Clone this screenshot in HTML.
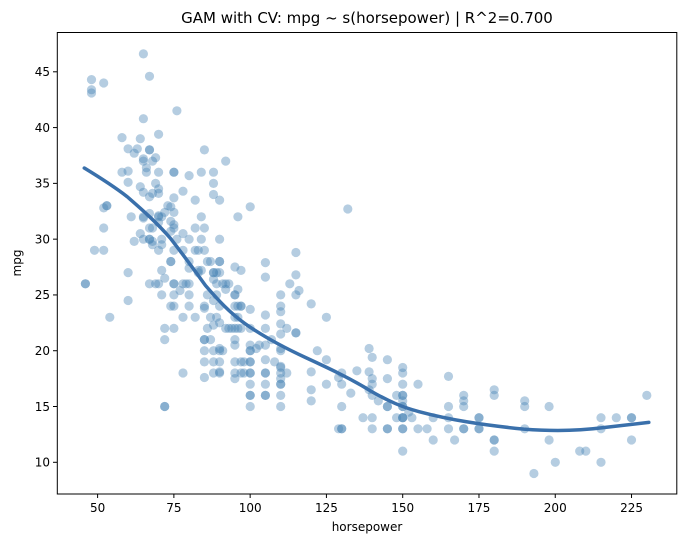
<!DOCTYPE html>
<html><head><meta charset="utf-8"><style>
body{margin:0;background:#fff;}
svg{display:block;font-family:"DejaVu Sans","Liberation Sans",sans-serif;}
</style></head><body>
<svg id="s" width="686" height="547" viewBox="0 0 686 547">
<rect width="686" height="547" fill="#fff"/>
<text x="367" y="23" font-size="15" text-anchor="middle" fill="#000">GAM with CV: mpg ~ s(horsepower) | R^2=0.700</text>
<g id="pts"></g>
<g transform="translate(0.6,20.4) scale(0.43592,0.33557)">
<path d="M192,440 C230,470 260,495 290,525 C330,570 360,605 390,650 C420,700 445,745 470,790 C500,835 525,870 560,903 C600,940 650,975 700,1005 C750,1035 800,1065 850,1105 C890,1135 920,1152 960,1166 C1030,1190 1100,1205 1200,1218 C1260,1224 1320,1224 1380,1214 C1420,1208 1460,1202 1487,1198" fill="none" stroke="#3a70ab" stroke-width="3.5" vector-effect="non-scaling-stroke" stroke-linecap="round"/>
</g>
<rect x="57.3" y="32.5" width="619.5" height="461.5" fill="none" stroke="#000" stroke-width="1"/>
<g id="ax" font-size="12" fill="#000"></g>
<text x="367" y="531" font-size="12" text-anchor="middle">horsepower</text>
<text transform="translate(21,263) rotate(-90)" font-size="12" text-anchor="middle">mpg</text>
</svg>
<script>
var X=function(h){return 97.6+(h-50)*3.051;};
var Y=function(m){return 71.8+(45-m)*11.157;};
var d={46:[26,26],48:[43.1,43.4,44.3],49:[29],52:[29,31,32.8,44],53:[33,33],54:[23],58:[36,39.1],60:[36.1,35.1,38.1,27,24.5],61:[32],62:[37.7,29.8],63:[38.1],64:[39,34.7,30.5],65:[46.6,40.8,37,37.2,34.2,32,31.9,30],66:[36,36.4],67:[44.6,38,38,33.8,32.3,31,30,30,26],68:[37,34.1,31,29.5,29.8],69:[37.3,35,26],70:[39.4,36,34.5,34.1,32,29,26,32.1,31.5],71:[32,30,27.2,25,29.5],72:[26.5,22,21,15,15,32.4],73:[33],74:[32.9,31.6,30.7,28,28,24],75:[36,36,33.7,32.4,31.3,31,29,26,26,25,24,22],76:[41.5,30],77:[25.4],78:[34.3,30.5,29,26,23,18],79:[26],80:[35.7,28,27.4,26,25,24,30],82:[23,29,31,33.5],83:[29,27.2,27],84:[36,32,30,27.2],85:[38,31,29,24,23.8,21,20,19,17.6,21],86:[28,22,25],87:[23,28,21],88:[36,35,34,27,27,26.4,20,19,18,22.3,24.5],89:[27,26,25,23],90:[33.5,30,28,28,27,24,22.5,20,19,18,18.1,20.2],91:[26,20],92:[37,26,25.5,22],93:[26,22],94:[22],95:[27.5,25,24,23,22,21,20.5,19,18,17.5,25],96:[32,25.5,24,23,22],97:[27.2,24,24,18,19,22],98:[18,19],100:[32.9,23.7,20.5,20,19,19,18,18,17,16,16,15,22,20],102:[20.2],103:[20.5],105:[27.9,26.6,23.2,22,20.5,19.2,18,18,17,16,16],107:[21],108:[19],110:[25,24,23.5,22.4,21.5,20.2,20,18.6,18,17,17,16,15,18.5,17.5],112:[22,18],113:[26],115:[28.8,26.8,25,21.6,21.6],116:[25.4],120:[24.2,18.1,16.5,15.5],122:[20],125:[23,19.2,17],129:[13,17.6],130:[18,17,15,13,13],132:[32.7],133:[16.2],135:[18.2],137:[14],139:[20.2,18.1,16.5],140:[19.4,17.5,17,16,14,13],142:[15.5],145:[19.2,17.5,15,15,13,13],148:[14,16],150:[18.5,18,17,16,16,15,15,14,14,14,13,13,11,15.5],152:[14.5],153:[14],155:[17,13],158:[13],160:[14,12],165:[17.7,15,14,13],167:[12],170:[16,15.5,15,13,13],175:[14,14,13,13],180:[16.5,16,12,12,11],190:[15.5,15,13],193:[9],198:[15,12],200:[10],208:[11],210:[11],215:[14,13,10],220:[14],225:[14,14,12],230:[16]};
var s='';
for(var h in d){d[h].forEach(function(m){s+='<circle cx="'+X(+h).toFixed(1)+'" cy="'+Y(m).toFixed(1)+'" r="4.6" fill="#4682b4" fill-opacity="0.4"/>';});}
document.getElementById('pts').innerHTML=s;
var a='';
[50,75,100,125,150,175,200,225].forEach(function(v){var x=X(v);a+='<line x1="'+x+'" x2="'+x+'" y1="494" y2="498" stroke="#000"/><text x="'+x+'" y="512" text-anchor="middle">'+v+'</text>';});
[10,15,20,25,30,35,40,45].forEach(function(v){var y=Y(v);a+='<line x1="53" x2="57.3" y1="'+y+'" y2="'+y+'" stroke="#000"/><text x="50" y="'+(y+4.3)+'" text-anchor="end">'+v+'</text>';});
document.getElementById('ax').innerHTML=a;
</script>
</body></html>
